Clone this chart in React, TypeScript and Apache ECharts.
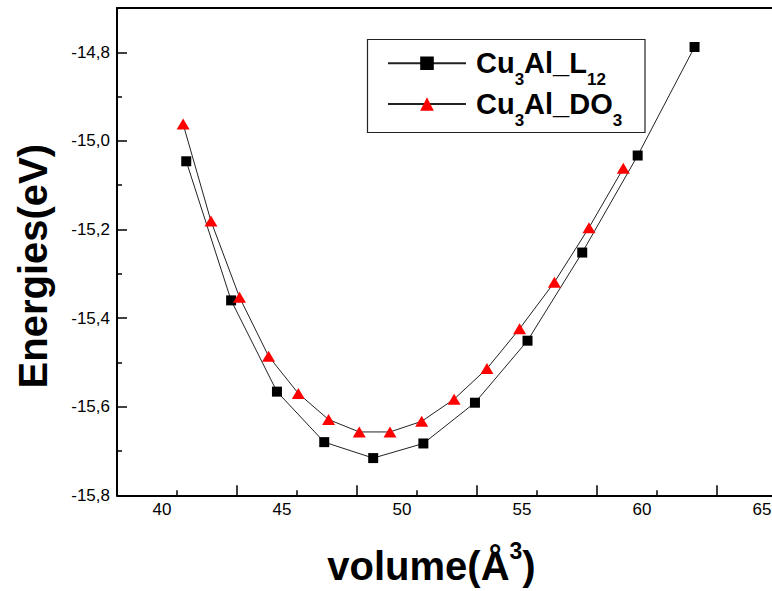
import React, { useEffect, useRef } from "react";
import * as echarts from "echarts";

// Data
const volumeL12 = [41.01, 42.88, 44.79, 46.76, 48.8, 50.89, 53.04, 55.23, 57.51, 59.82, 62.19];
const energyL12 = [-15.046, -15.36, -15.566, -15.68, -15.716, -15.683, -15.591, -15.451, -15.252, -15.033, -14.788];
const volumeDO3 = [40.88, 42.04, 43.23, 44.44, 45.68, 46.94, 48.22, 49.5, 50.82, 52.17, 53.54, 54.9, 56.35, 57.79, 59.22];
const energyDO3 = [-14.962, -15.181, -15.353, -15.486, -15.57, -15.629, -15.657, -15.657, -15.633, -15.583, -15.514, -15.424, -15.319, -15.196, -15.062];

const xLabelValues = [40, 45, 50, 55, 60, 65];
const xMajorTickValues = [43.125, 48.125, 53.125, 58.125, 63.125];
const xMinorTickValues = [40.625, 45.625, 50.625, 55.625, 60.625, 65.625];
const yLabelValues = [-15.8, -15.6, -15.4, -15.2, -15.0, -14.8];
const yMinorTickValues = [-15.7, -15.5, -15.3, -15.1, -14.9];

const FONT = "'Liberation Sans', Arial, Helvetica, sans-serif";

export default function App() {
  const ref = useRef<HTMLDivElement>(null);
  useEffect(() => {
    if (!ref.current) return;
    const chart = echarts.init(ref.current, undefined, { renderer: "svg" });
    const xMin = 38.125;
    const xMax = 68.125;
    const yMin = -15.8;
    const yMax = -14.7;
    const l12 = volumeL12.map((v, i) => [v, energyL12[i]]);
    const do3 = volumeDO3.map((v, i) => [v, energyDO3[i]]);
    chart.setOption({
      animation: false,
      backgroundColor: "#ffffff",
      textStyle: { fontFamily: FONT },
      grid: { left: 117, top: 8, width: 720, height: 490 },
      graphic: [
        {
          type: "rect",
          shape: { x: 367.5, y: 39.5, width: 277.5, height: 93 },
          style: { fill: "#ffffff", stroke: "#222", lineWidth: 1.2 },
          z: 50,
        },
      ],
      legend: {
        left: 387,
        top: 38.3,
        orient: "vertical",
        itemWidth: 78,
        itemHeight: 17,
        itemGap: -9.3,
        padding: 0,
        z: 60,
        selectedMode: false,
        formatter: (name: string) =>
          name === "Cu3Al_L12"
            ? "{a|Cu}{s|3}{a|Al_L}{s|12}"
            : "{a|Cu}{s|3}{a|Al_DO}{s|3}",
        textStyle: {
          padding: [0, 0, 0, 5],
          rich: {
            a: {
              fontSize: 29,
              fontWeight: "bold",
              fontFamily: FONT,
              color: "#000",
              lineHeight: 30,
              verticalAlign: "middle",
            },
            s: {
              fontSize: 17,
              fontWeight: "bold",
              fontFamily: FONT,
              color: "#000",
              lineHeight: 17,
              padding: [33, 0, 0, 0],
              verticalAlign: "middle",
            },
          },
        },
        data: ["Cu3Al_L12", "Cu3Al_DO3"],
      },
      xAxis: [
        {
          type: "value",
          min: xMin,
          max: xMax,
          position: "bottom",
          name: "{a|volume(Å}{s|3}{a|)}",
          nameLocation: "middle",
          nameGap: 43.7,
          nameTextStyle: {
            padding: [0, 91, 0, 0],
            rich: {
              a: {
                fontSize: 40,
                fontWeight: "bold",
                fontFamily: FONT,
                color: "#000",
                lineHeight: 54,
                verticalAlign: "middle",
              },
              s: {
                fontSize: 23,
                fontWeight: "bold",
                fontFamily: FONT,
                color: "#000",
                lineHeight: 22,
                verticalAlign: "top",
              },
            },
          },
          axisLine: { show: true, lineStyle: { color: "#000", width: 2 } },
          axisTick: {
            show: true,
            inside: true,
            length: 10,
            customValues: xMajorTickValues,
            lineStyle: { color: "#000", width: 1.5 },
          },
          axisLabel: {
            show: true,
            customValues: xLabelValues,
            margin: 6,
            fontSize: 17,
            color: "#000",
            fontFamily: FONT,
          },
          splitLine: { show: false },
        },
        {
          type: "value",
          min: xMin,
          max: xMax,
          position: "bottom",
          offset: 0,
          axisLine: { show: false },
          axisTick: {
            show: true,
            inside: true,
            length: 5,
            customValues: xMinorTickValues,
            lineStyle: { color: "#000", width: 1.5 },
          },
          axisLabel: { show: false },
          splitLine: { show: false },
        },
        {
          type: "value",
          min: xMin,
          max: xMax,
          position: "top",
          offset: 0,
          axisLine: { show: true, lineStyle: { color: "#000", width: 2 } },
          axisTick: { show: false },
          axisLabel: { show: false },
          splitLine: { show: false },
        },
      ],
      yAxis: [
        {
          type: "value",
          min: yMin,
          max: yMax,
          position: "left",
          name: "Energies(eV)",
          nameLocation: "middle",
          nameRotate: 90,
          nameGap: 64,
          nameTextStyle: {
            fontSize: 40,
            fontWeight: "bold",
            fontFamily: FONT,
            color: "#000",
            lineHeight: 40,
            padding: [0, 29, 0, 0],
          },
          axisLine: { show: true, lineStyle: { color: "#000", width: 2 } },
          axisTick: {
            show: true,
            inside: true,
            length: 10,
            customValues: yLabelValues,
            lineStyle: { color: "#000", width: 1.5 },
          },
          axisLabel: {
            show: true,
            customValues: yLabelValues,
            margin: 7,
            fontSize: 17,
            color: "#000",
            fontFamily: FONT,
            formatter: (v: number) => v.toFixed(1).replace(".", ","),
          },
          splitLine: { show: false },
        },
        {
          type: "value",
          min: yMin,
          max: yMax,
          position: "left",
          offset: 0,
          axisLine: { show: false },
          axisTick: {
            show: true,
            inside: true,
            length: 5,
            customValues: yMinorTickValues,
            lineStyle: { color: "#000", width: 1.5 },
          },
          axisLabel: { show: false },
          splitLine: { show: false },
        },
      ],
      series: [
        {
          name: "Cu3Al_L12",
          type: "line",
          xAxisIndex: 0,
          yAxisIndex: 0,
          data: l12,
          symbol: "rect",
          symbolSize: 10,
          itemStyle: { color: "#000" },
          lineStyle: { color: "#222", width: 1 },
          z: 3,
        },
        {
          name: "Cu3Al_DO3",
          type: "line",
          xAxisIndex: 0,
          yAxisIndex: 0,
          data: do3,
          symbol: "triangle",
          symbolSize: [13, 11],
          itemStyle: { color: "#ff0000" },
          lineStyle: { color: "#222", width: 1 },
          z: 4,
        },
      ],
    });
    return () => chart.dispose();
  }, []);
  return (
    <div
      style={{
        position: "fixed",
        left: 0,
        top: 0,
        width: 772,
        height: 591,
        overflow: "hidden",
        background: "#fff",
      }}
    >
      <div ref={ref} style={{ width: 900, height: 591 }} />
    </div>
  );
}
